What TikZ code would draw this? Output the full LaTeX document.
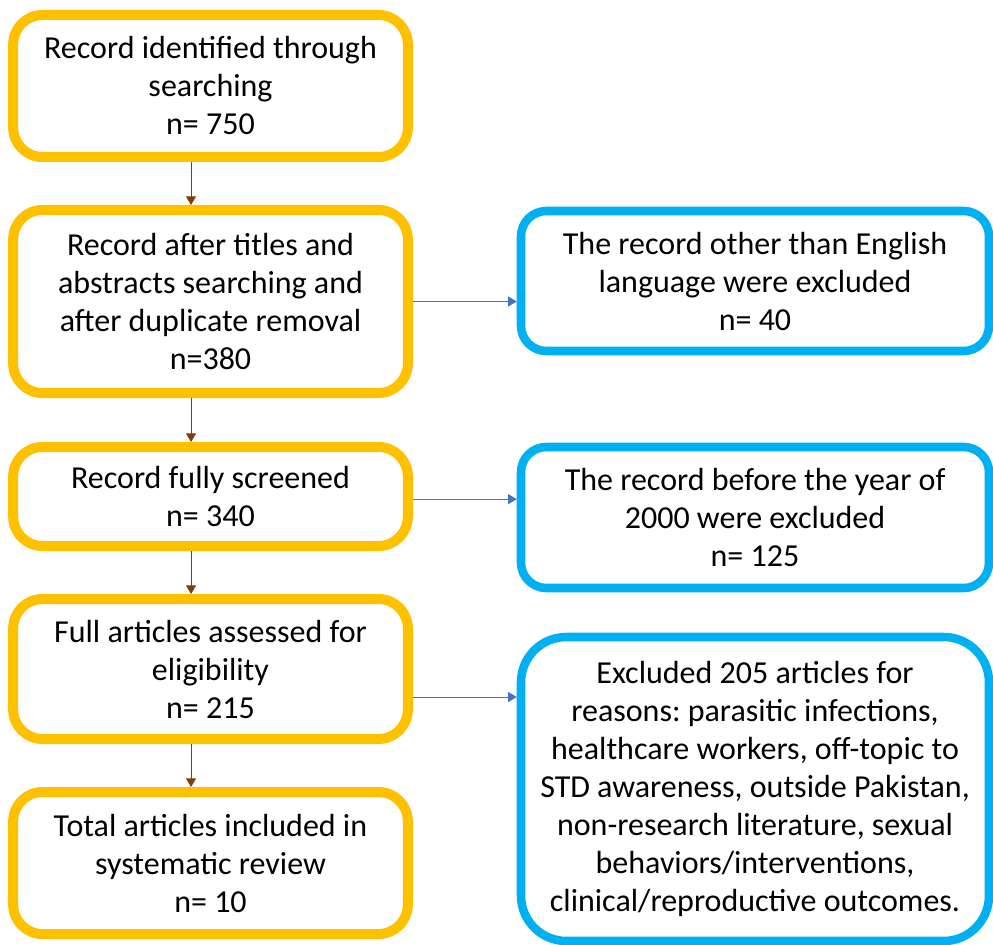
\documentclass[tikz,border=0pt]{standalone}
\usepackage{fontspec}
\setmainfont{Carlito}
\usetikzlibrary{positioning}
\usetikzlibrary{arrows.meta}
\frenchspacing

\definecolor{boxorange}{HTML}{FFC000}
\definecolor{boxblue}{HTML}{00B0F0}
\definecolor{arrbrown}{HTML}{843C0C}
\definecolor{arrblue}{HTML}{4472C4}

\tikzset{
  flowbox/.style={draw=boxorange, line width=7.5pt, rounded corners=22pt, align=center, minimum width=296pt, inner sep=0pt, font=\fontsize{24}{28.5}\selectfont},
  exclbox/.style={draw=boxblue, line width=6.4pt, rounded corners=19pt, align=center, minimum width=351pt, inner sep=0pt, font=\fontsize{24}{28.5}\selectfont},
  downarrow/.style={arrbrown, line width=0.75pt, -{Triangle[width=7.5pt, length=6.5pt]}},
  sidearrow/.style={arrblue, line width=0.75pt, -{Triangle[width=7.5pt, length=6.5pt]}}
}

\begin{document}
\begin{tikzpicture}[x=0.75pt, y=-0.75pt]
			\useasboundingbox (0, 0) rectangle (993, 945);
			\node[flowbox, minimum height=106.5pt] (f1) at (210.5, 86) {Record identified through\\searching\\n= 750};
			\node[flowbox, minimum height=137.25pt] (f2) at (210.5, 301.5) {Record after titles and\\abstracts searching and\\after duplicate removal\\n=380};
			\node[flowbox, minimum height=74.25pt] (f3) at (210.5, 496.5) {Record fully screened\\n= 340};
			\node[flowbox, minimum height=105pt] (f4) at (210.5, 669) {Full articles assessed for\\eligibility\\n= 215};
			\node[flowbox, minimum height=106.5pt] (f5) at (210.5, 863) {Total articles included in\\systematic review\\n= 10};
			\node[exclbox, minimum height=105pt] (x1) at (755, 281) {The record other than English\\language were excluded\\n= 40};
			\node[exclbox, minimum height=105.75pt] (x2) at (755, 517.5) {The record before the year of\\2000 were excluded\\n= 125};
			\node[exclbox, minimum height=228pt, rounded corners=34pt] (x3) at (755, 789) {Excluded 205 articles for\\reasons: parasitic infections,\\healthcare workers, off-topic to\\STD awareness, outside Pakistan,\\non-research literature, sexual\\behaviors/interventions,\\clinical/reproductive outcomes.};
			\draw[downarrow] ([xshift=-14.6pt]f1.south) -- ([xshift=-14.6pt]f2.north);
			\draw[downarrow] ([xshift=-14.6pt]f2.south) -- ([xshift=-14.6pt]f3.north);
			\draw[downarrow] ([xshift=-14.6pt]f3.south) -- ([xshift=-14.6pt]f4.north);
			\draw[downarrow] ([xshift=-14.6pt]f4.south) -- ([xshift=-14.6pt]f5.north);
			\coordinate (a1) at (f2.east);
			\coordinate (a2) at ([yshift=-2pt]f3.east);
			\coordinate (a3) at ([yshift=-21pt]f4.east);
			\draw[sidearrow] (a1) -- (a1 -| x1.west);
			\draw[sidearrow] (a2) -- (a2 -| x2.west);
			\draw[sidearrow] (a3) -- (a3 -| x3.west);
		\end{tikzpicture}
\end{document}
